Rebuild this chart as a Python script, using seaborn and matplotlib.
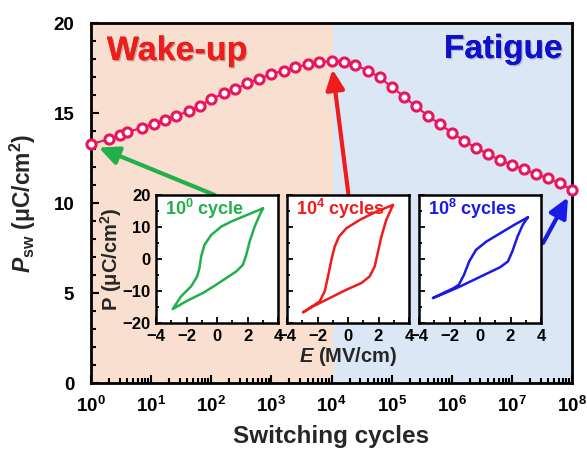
import numpy as np
import pandas as pd
import seaborn as sns
import matplotlib.pyplot as plt
from matplotlib import patheffects as pe
from matplotlib.ticker import FixedLocator, FixedFormatter, LogLocator, MultipleLocator, NullFormatter

# ---- switching polarization versus number of field cycles ----
cycles = [1, 2, 3, 4, 7, 11, 17, 26, 42, 65,
          1.0e2, 1.6e2, 2.5e2, 4.0e2, 6.3e2, 1.0e3, 1.6e3, 2.5e3, 4.0e3, 6.3e3,
          1.0e4, 1.6e4, 2.5e4, 4.0e4, 6.3e4, 1.0e5, 1.6e5, 2.5e5, 4.0e5, 6.3e5,
          1.0e6, 1.6e6, 2.5e6, 4.0e6, 6.3e6, 1.0e7, 1.6e7, 2.5e7, 4.0e7, 6.3e7, 1.0e8]
psw = [13.26, 13.56, 13.78, 13.93, 14.18, 14.41, 14.61, 14.83, 15.11, 15.41,
       15.76, 16.09, 16.31, 16.65, 16.90, 17.17, 17.35, 17.54, 17.70, 17.83,
       17.88, 17.85, 17.67, 17.35, 16.98, 16.46, 15.91, 15.39, 14.85, 14.39,
       13.91, 13.46, 13.07, 12.72, 12.39, 12.11, 11.87, 11.61, 11.37, 11.09, 10.72]
wake_end = 1.07e4   # end of the wake-up regime

decade_ticks = [1e0, 1e1, 1e2, 1e3, 1e4, 1e5, 1e6, 1e7, 1e8]
decade_labels = [r'$10^{0}$', r'$10^{1}$', r'$10^{2}$', r'$10^{3}$', r'$10^{4}$',
                 r'$10^{5}$', r'$10^{6}$', r'$10^{7}$', r'$10^{8}$']
psw_ticks = [0, 5, 10, 15, 20]

# ---- P-E hysteresis loops (E in MV/cm, P in uC/cm2) ----
loop1_E = [3.02, 1.81, 0.93, 0.28, -0.38, -0.82, -1.04, -1.15, -1.30, -1.70, -2.36, -2.90,
           -1.92, -0.93, -0.16, 0.50, 1.26, 1.70, 1.92, 2.14, 2.47, 2.80, 3.02]
loop1_P = [15.84, 13.45, 11.69, 10.13, 7.53, 4.42, 0.78, -2.86, -5.45, -8.57, -11.69, -15.64,
           -12.94, -10.65, -8.36, -6.29, -3.90, -1.82, 1.30, 5.45, 10.13, 13.77, 15.84]
loop2_E = [2.95, 1.86, 0.77, -0.11, -0.59, -0.87, -1.09, -1.31, -1.53, -1.86, -2.95,
           -2.30, -1.42, -0.11, 0.87, 1.42, 1.75, 1.97, 2.19, 2.51, 2.95]
loop2_P = [16.88, 14.81, 12.21, 9.61, 7.01, 3.90, -0.26, -5.45, -10.13, -13.25, -16.68,
           -14.81, -12.73, -9.61, -7.53, -5.45, -2.34, 2.34, 7.01, 12.21, 16.88]
loop3_E = [3.14, 2.24, 1.33, 0.42, -0.26, -0.71, -1.05, -1.39, -1.73, -3.09,
           -2.30, -1.39, -0.03, 1.33, 1.83, 2.12, 2.46, 2.80, 3.14]
loop3_P = [13.04, 10.65, 8.05, 5.45, 2.86, -0.78, -4.94, -8.05, -9.09, -12.21,
           -10.65, -8.78, -5.66, -2.55, -0.78, 2.34, 7.01, 10.65, 13.04]
loop_names = ['10$^{0}$ cycle', '10$^{4}$ cycles', '10$^{8}$ cycles']

# ---- styling ----
sns.set_style('white')
plt.rcParams['font.family'] = ['Liberation Sans', 'DejaVu Sans']
plt.rcParams['font.weight'] = 'bold'
plt.rcParams['mathtext.fontset'] = 'custom'
plt.rcParams['mathtext.rm'] = 'Liberation Sans:bold'
plt.rcParams['mathtext.it'] = 'Liberation Sans:bold:italic'
plt.rcParams['mathtext.bf'] = 'Liberation Sans:bold'

PINK = '#e8175d'
GREEN = '#22b04b'
RED = '#ee1c1c'
BLUE = '#1a1ae6'
PEACH = '#f9dfcf'
SKY = '#dbe7f4'

fig = plt.figure(figsize=(5.87, 4.5), dpi=100)
ax = fig.add_axes([91 / 587, 67 / 450, 481 / 587, 360 / 450])

ax.axvspan(1, wake_end, color=PEACH, lw=0, zorder=0)
ax.axvspan(wake_end, 1e8, color=SKY, lw=0, zorder=0)

ax.set_xscale('log')
sns.lineplot(x=cycles, y=psw, ax=ax, color=PINK, lw=1.5, marker='o', markersize=6.6,
             markerfacecolor='white', markeredgecolor=PINK, markeredgewidth=2.2,
             estimator=None, sort=False, zorder=4, clip_on=False)
ax.set_xlim(1, 1e8)
ax.set_ylim(0, 20)

ax.xaxis.set_major_locator(FixedLocator(decade_ticks))
ax.xaxis.set_major_formatter(FixedFormatter(decade_labels))
ax.xaxis.set_minor_locator(LogLocator(base=10, subs=np.arange(2, 10), numticks=20))
ax.xaxis.set_minor_formatter(NullFormatter())
ax.yaxis.set_major_locator(FixedLocator(psw_ticks))
ax.yaxis.set_minor_locator(MultipleLocator(1))
ax.tick_params(which='both', direction='in', left=True, bottom=True, top=False, right=False,
               width=1.5, colors='black')
ax.tick_params(which='major', length=6, labelsize=13.5)
ax.tick_params(which='minor', length=3.5)
ax.tick_params(axis='y', which='major', pad=12)
ax.tick_params(axis='x', which='major', pad=9)
for s in ax.spines.values():
    s.set_linewidth(2)
    s.set_color('black')

ax.set_xlabel('Switching cycles', fontsize=17.5, fontweight='bold')
ax.xaxis.set_label_coords(0.5, -0.118)
ax.set_ylabel(r'$P_{\mathrm{sw}}$ (μC/cm$^{2}$)', fontsize=16.5, fontweight='bold')
ax.yaxis.set_label_coords(-0.11, 0.5)

shadow = [pe.withSimplePatchShadow(offset=(1, -1), shadow_rgbFace='#555555', alpha=0.35),
          pe.Normal()]
ax.text(0.033, 0.897, 'Wake-up', transform=ax.transAxes, fontsize=24.5, fontweight='bold',
        color=RED, ha='left', va='baseline', path_effects=shadow)
ax.text(0.981, 0.903, 'Fatigue', transform=ax.transAxes, fontsize=24, fontweight='bold',
        color='#1010cc', ha='right', va='baseline', path_effects=shadow)

# arrows from each loop to its point on the curve
arrow_spec = [(0, (115, 10.44), GREEN), (20, (1.9e4, 10.56), RED), (40, (3.3e7, 7.78), BLUE)]
for idx, tail, col in arrow_spec:
    ax.annotate('', xy=(cycles[idx], psw[idx]), xytext=tail, xycoords='data',
                arrowprops=dict(arrowstyle='-|>,head_length=0.6,head_width=0.28',
                                mutation_scale=20, lw=3, color=col,
                                shrinkA=0, shrinkB=6), zorder=3)

# ---- insets ----
loops = [(loop1_E, loop1_P, GREEN), (loop2_E, loop2_P, RED), (loop3_E, loop3_P, BLUE)]
inset_left = [156, 287, 419]
for k, ((E, P, col), left) in enumerate(zip(loops, inset_left)):
    ia = fig.add_axes([left / 587, 127 / 450, 122 / 587, 128 / 450])
    ia.set_facecolor('white')
    df = pd.DataFrame({'E': E, 'P': P})
    sns.lineplot(data=df, x='E', y='P', ax=ia, color=col, lw=1.8, sort=False,
                 estimator=None)
    ia.set_xlim(-4, 4)
    ia.set_ylim(-20, 20)
    ia.xaxis.set_major_locator(FixedLocator([-4, -2, 0, 2, 4]))
    ia.xaxis.set_minor_locator(MultipleLocator(1))
    ia.yaxis.set_major_locator(FixedLocator([-20, -10, 0, 10, 20]))
    ia.yaxis.set_minor_locator(MultipleLocator(5))
    ia.tick_params(which='both', direction='in', left=True, bottom=True, top=False,
                   right=False, width=1.3, colors='black')
    ia.tick_params(which='major', length=4.5, labelsize=12, pad=4)
    ia.tick_params(which='minor', length=2.5)
    for s in ia.spines.values():
        s.set_linewidth(1.8)
        s.set_color('black')
    ia.set_xlabel('')
    ia.set_ylabel('')
    if k > 0:
        ia.set_yticklabels([])
    ia.text(0.07, 0.845, loop_names[k], transform=ia.transAxes, fontsize=13,
            fontweight='bold', color=col, ha='left', va='baseline')
    if k == 0:
        ia.set_ylabel('P (μC/cm$^{2}$)', fontsize=14.5, fontweight='bold')
        ia.yaxis.set_label_coords(-0.26, 0.5)
    if k == 1:
        ia.set_xlabel(r'$E$ (MV/cm)', fontsize=14.5, fontweight='bold')
        ia.xaxis.set_label_coords(0.5, -0.17)

fig.savefig('out.png', dpi=100)
